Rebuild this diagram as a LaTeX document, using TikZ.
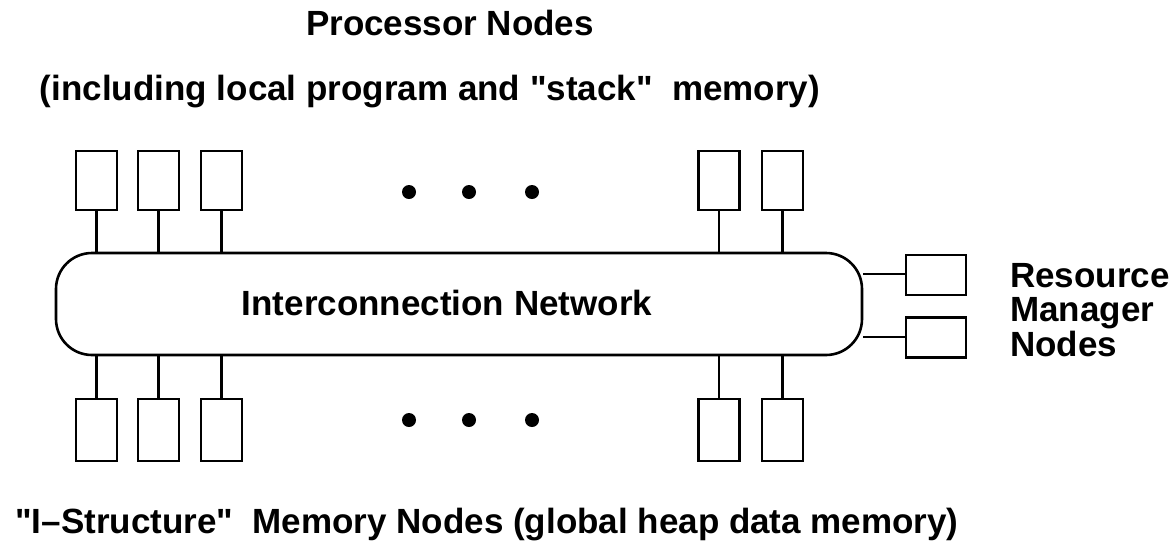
\documentclass[tikz,border=0pt]{standalone}
\usepackage{fontspec}
\newfontfamily\lsans{Liberation Sans}
\begin{document}
\begin{tikzpicture}[x=1pt,y=-1pt,
  lw/.style={line width=2.6pt},
  pbox/.style={draw,lw,minimum width=41pt,minimum height=59pt,inner sep=0pt},
  mbox/.style={draw,lw,minimum width=41pt,minimum height=62pt,inner sep=0pt},
  rbox/.style={draw,lw,minimum width=60pt,minimum height=40pt,inner sep=0pt},
  net/.style={draw,lw,rounded corners=36pt,minimum width=806pt,minimum height=102pt,inner sep=0pt},
  txt/.style={font=\lsans\fontsize{35}{34.5}\selectfont\bfseries,inner sep=0pt,anchor=base},
  dot/.style={circle,fill=black,minimum size=14pt,inner sep=0pt},
  conn/.style={lw}]
\useasboundingbox (0,0) rectangle (1176,542);

\node[net] (net) at (459,304) {};
\node[txt] (netlab) at (447,315) {Interconnection Network};

% processor nodes (top)
\node[pbox] (t1) at (96.5,180.5) {};
\node[pbox] (t2) at (158.5,180.5) {};
\node[pbox] (t3) at (221.5,180.5) {};
\node[pbox] (t4) at (719,180.5) {};
\node[pbox] (t5) at (782.5,180.5) {};
\foreach \n in {t1,t2,t3,t4,t5}
  \draw[conn] (\n.south) -- (\n.south |- net.north);

% memory nodes (bottom)
\node[mbox] (b1) at (96.5,430) {};
\node[mbox] (b2) at (158.5,430) {};
\node[mbox] (b3) at (221.5,430) {};
\node[mbox] (b4) at (719,430) {};
\node[mbox] (b5) at (782.5,430) {};
\foreach \n in {b1,b2,b3,b4,b5}
  \draw[conn] (\n.north) -- (\n.north |- net.south);

% dots
\node[dot] (d1) at (409,192) {};
\node[dot] (d2) at (469,192) {};
\node[dot] (d3) at (532,192) {};
\node[dot] (d4) at (409,420) {};
\node[dot] (d5) at (469,420) {};
\node[dot] (d6) at (532,420) {};

% resource manager nodes
\node[rbox] (r1) at (936,275) {};
\node[rbox] (r2) at (936,337.5) {};
\coordinate (r1c) at (863,274);
\coordinate (r2c) at (863,337);
\draw[conn] (r1c) -- (r1c -| r1.west);
\draw[conn] (r2c) -- (r2c -| r2.west);

% labels
\node[txt] (title) at (450,35) {Processor Nodes};
\node[txt] (sub) at (430,100) {(including local program and "stack"\ \ memory)};
\node[txt] (mem) at (487,533) {"I–Structure"\ \ Memory Nodes (global heap data memory)};
\node[txt,anchor=base west,align=left] (res) at (1010,356) {Resource\\Manager\\Nodes};
\end{tikzpicture}
\end{document}
